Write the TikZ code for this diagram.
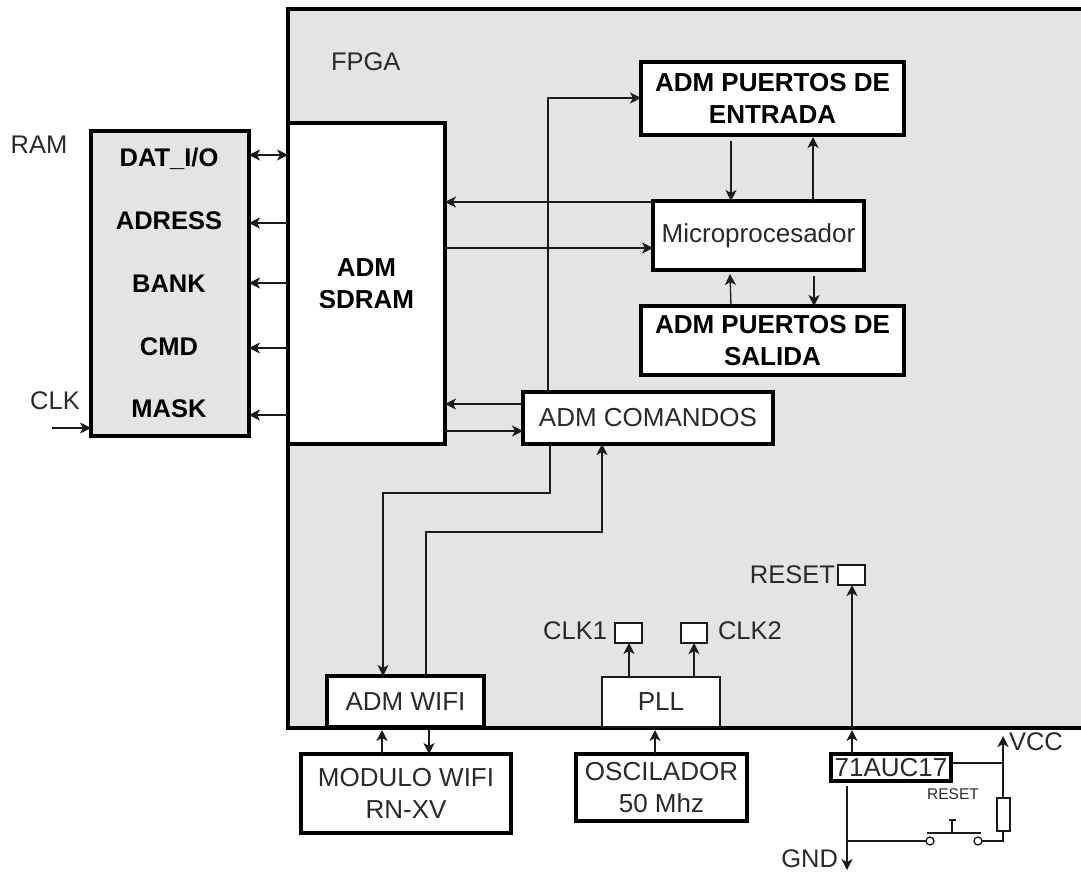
\documentclass[tikz,border=0pt]{standalone}
\usepackage{fontspec}
\setmainfont{Liberation Sans}
\usetikzlibrary{arrows.meta}
\definecolor{panel}{HTML}{E4E4E4}
\definecolor{ink}{HTML}{1A1A1A}
\definecolor{soft}{HTML}{2A2A2A}
\newcommand{\bx}[7]{\node[#6,minimum width={(#4-#2)*1pt},minimum height={(#5-#3)*1pt}] (#1) at ({(#2+#4)/2},{(#3+#5)/2}) {#7};}
\tikzset{
  x=1pt,y=-1pt,
  base/.style={inner sep=0pt,outer sep=0pt,align=center,font=\fontsize{26}{31.5}\selectfont,text=soft},
  heavy/.style={base,draw=black,line width=3.6pt,fill=white},
  boldbox/.style={heavy,font=\fontsize{26}{31.5}\selectfont\bfseries,text=black},
  thinbox/.style={base,draw=ink,line width=1.4pt,fill=white},
  lab/.style={inner sep=0pt,outer sep=0pt,font=\fontsize{25.5}{30}\selectfont,text=soft},
  reglab/.style={inner sep=0pt,outer sep=0pt,font=\fontsize{25.5}{30}\selectfont\bfseries,text=black},
  conn/.style={draw=ink,line width=1.3pt},
  arr/.style={conn,-{Stealth[length=11pt,width=11pt,inset=3pt]}},
  darr/.style={conn,{Stealth[length=11pt,width=11pt,inset=3pt]}-{Stealth[length=11pt,width=11pt,inset=3pt]}},
  pin/.style={circle,draw=ink,line width=1.3pt,fill=white,minimum size=8pt,inner sep=0pt,outer sep=0pt},
}
\begin{document}
\begin{tikzpicture}
\useasboundingbox (0,0) rectangle (1081,871);
% FPGA panel, running off the right edge of the page
\fill[panel] (288,9) rectangle (1081,728);
\draw[black,line width=4pt,line join=miter] (1081,9) -- (288,9) -- (288,728) -- (1081,728);
\node[lab,anchor=west] (fpga) at (331,62) {FPGA};
% RAM
\bx{ram}{91}{131}{249}{436}{base,draw=black,line width=3.6pt,fill=panel}{}
\node[lab,anchor=center] (ramlab) at (39,145) {RAM};
\node[reglab] (dat) at (169,159) {DAT\_I/O};
\node[reglab] (adr) at (169,221) {ADRESS};
\node[reglab] (bank) at (169,284) {BANK};
\node[reglab] (cmd) at (169,347) {CMD};
\node[reglab] (mask) at (169,409) {MASK};
\node[lab] (clklab) at (55,401) {CLK};
\coordinate (clkin) at (52,428);
% Boxes
\bx{sdram}{288}{123}{445}{444}{boldbox}{ADM\\SDRAM}
\bx{ent}{641}{62}{904}{135}{boldbox}{ADM PUERTOS DE\\ENTRADA}
\bx{micro}{653}{201}{864}{270}{heavy}{Microprocesador}
\bx{sal}{641}{306}{904}{375}{boldbox}{ADM PUERTOS DE\\SALIDA}
\bx{com}{523}{392}{773}{444}{heavy}{ADM COMANDOS}
\bx{wifi}{327}{676}{484}{727}{heavy}{ADM WIFI}
\bx{mod}{301}{754}{511}{833}{heavy}{MODULO WIFI\\RN-XV}
\bx{pll}{602}{677}{720}{727}{thinbox}{PLL}
\bx{osc}{576}{754}{747}{821}{heavy}{OSCILADOR\\50 Mhz}
\bx{ca}{615}{623}{642}{643}{thinbox}{}
\bx{cb}{681}{623}{707}{643}{thinbox}{}
\bx{rst}{838}{565}{865}{585}{thinbox}{}
\bx{auc}{831}{754}{951}{781}{heavy}{71AUC17}
\node[lab,anchor=east] (caL) at (607,631) {CLK1};
\node[lab,anchor=west] (cbL) at (718,631) {CLK2};
\node[lab,anchor=east] (rstL) at (835,575) {RESET};
\node[lab,anchor=west] (vcc) at (1009,742) {VCC};
\node[lab,anchor=east] (gnd) at (838,859) {GND};
\node[inner sep=0pt,outer sep=0pt,font=\fontsize{15.5}{18}\selectfont,text=soft] (rstsmall) at (953,794) {RESET};
% RAM connectors
\draw[darr] (ram.east |- 0,155) -- (sdram.west |- 0,155);
\draw[arr] (sdram.west |- 0,223) -- (ram.east |- 0,223);
\draw[arr] (sdram.west |- 0,283) -- (ram.east |- 0,283);
\draw[arr] (sdram.west |- 0,348) -- (ram.east |- 0,348);
\draw[arr] (sdram.west |- 0,415) -- (ram.east |- 0,415);
\draw[arr] (clkin) -- (ram.west |- clkin);
% SDRAM - micro - ports
\draw[arr] (micro.west |- 0,202) -- (sdram.east |- 0,202);
\draw[arr] (sdram.east |- 0,248) -- (micro.west |- 0,248);
\draw[arr] (731,141) -- (731,0 |- micro.north);
\draw[arr] (813,0 |- micro.north) -- (813,137);
\draw[arr] (731,0 |- sal.north) -- (730,274);
\draw[arr] (814,276) -- (814,0 |- sal.north);
% SDRAM - comandos
\draw[arr] (com.west |- 0,404) -- (sdram.east |- 0,404);
\draw[arr] (sdram.east |- 0,431) -- (com.west |- 0,431);
\draw[arr] (548,0 |- com.north) -- (548,98) -- (ent.west |- 0,98);
% comandos - wifi
\draw[arr] (550,0 |- com.south) -- (550,493) -- (383,493) -- (383,0 |- wifi.north);
\draw[arr] (426,0 |- wifi.north) -- (426,532) -- (602,532) -- (602,0 |- com.south);
% wifi - modulo
\draw[arr] (382,0 |- mod.north) -- (382,730);
\draw[arr] (429,730) -- (429,0 |- mod.north);
% pll
\draw[arr] (655,0 |- osc.north) -- (655,730);
\draw[arr] (629,0 |- pll.north) -- (629,0 |- ca.south);
\draw[arr] (694,0 |- pll.north) -- (694,0 |- cb.south);
% reset
\coordinate (edgeb) at (852,728);
\draw[arr] (852,0 |- auc.north) -- (852,730);
\draw[arr] (edgeb) -- (852,0 |- rst.south);
% reset circuit
\node[base,draw=ink,line width=1.3pt,fill=white,minimum width=13pt,minimum height=33pt] (res) at (1003.5,814.5) {};
\node[pin] (swa) at (930,841) {};
\node[pin] (swb) at (978,841) {};
\coordinate (vcctop) at (1003,736);
\coordinate (gndend) at (847,870);
\draw[arr] (auc.east |- 0,763) -- (1003,763) -- (vcctop);
\draw[conn] (1003,763) -- (1003,0 |- res.north);
\draw[conn] (1003,0 |- res.south) -- (1003,841) -- (swb.east);
\draw[arr] (847,786) -- (gndend);
\draw[conn] (847,841) -- (swa.west);
\coordinate (bara) at (927,833);
\coordinate (barb) at (981,833);
\coordinate (stem) at (952,833);
\coordinate (stemtop) at (952,820);
\draw[conn] (bara) -- (barb);
\draw[conn] (stem) -- (stemtop);
\draw[conn] (949,820) -- (955.5,820);
\end{tikzpicture}
\end{document}
